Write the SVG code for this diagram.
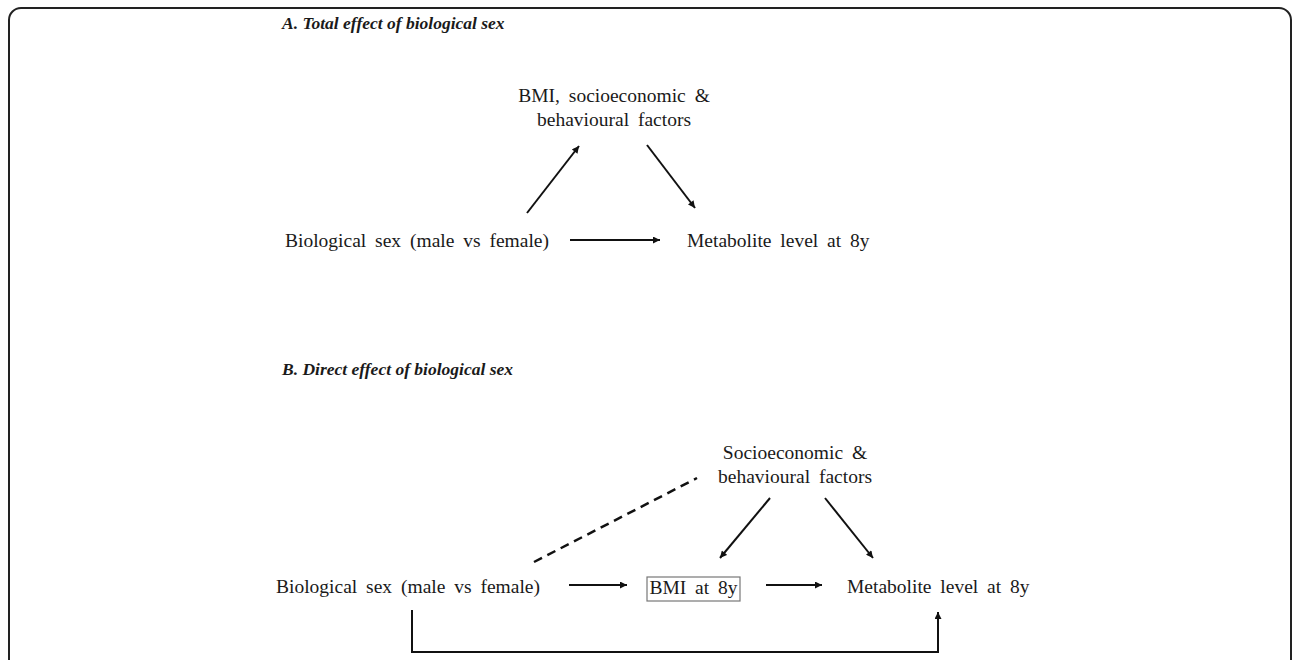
<svg xmlns="http://www.w3.org/2000/svg" width="1295" height="660" viewBox="0 0 1295 660">
<style>
  .t { font-family: "Liberation Serif", "Times New Roman", serif; font-size: 19.5px; fill: #1a1a1a; word-spacing: 4px; }
  .h { font-family: "Liberation Serif", "Times New Roman", serif; font-size: 17.5px; font-weight: bold; font-style: italic; fill: #1a1a1a; }
  .c { text-anchor: middle; }
  .ln { stroke: #111; stroke-width: 2; fill: none; }
  .dash { stroke: #111; stroke-width: 2.5; fill: none; stroke-dasharray: 9 6; }
</style>
<defs>
  <marker id="ah" viewBox="0 0 10 10" refX="10" refY="5" markerWidth="9" markerHeight="7" markerUnits="userSpaceOnUse" orient="auto">
    <path d="M0,0 L10,5 L0,10 z" fill="#111"/>
  </marker>
</defs>
<rect x="0" y="0" width="1295" height="660" fill="#fff"/>
<rect id="frame" x="9" y="8" width="1282" height="720" rx="12" ry="12" fill="none" stroke="#222" stroke-width="2"/>

<g id="titleA"><text class="h" x="282" y="29">A. Total effect of biological sex</text></g>
<g id="A_factors">
  <text class="t c" x="614" y="102">BMI, socioeconomic &amp;</text>
  <text class="t c" x="614" y="126">behavioural factors</text>
</g>
<g id="A_sex"><text class="t" x="285" y="247">Biological sex (male vs female)</text></g>
<g id="A_metab"><text class="t" x="687" y="247">Metabolite level at 8y</text></g>

<g id="titleB"><text class="h" x="282" y="375">B. Direct effect of biological sex</text></g>
<g id="B_factors">
  <text class="t c" x="795" y="459">Socioeconomic &amp;</text>
  <text class="t c" x="795" y="483">behavioural factors</text>
</g>
<g id="B_sex"><text class="t" x="276" y="593">Biological sex (male vs female)</text></g>
<g id="B_bmi">
  <rect x="647" y="577" width="93" height="24" fill="none" stroke="#777" stroke-width="1.2"/>
  <text class="t c" x="693.5" y="594">BMI at 8y</text>
</g>
<g id="B_metab"><text class="t" x="847" y="593">Metabolite level at 8y</text></g>

<g id="connectors">
  <line class="ln" x1="527" y1="213" x2="579" y2="146" marker-end="url(#ah)"/>
  <line class="ln" x1="647" y1="145" x2="695" y2="208" marker-end="url(#ah)"/>
  <line class="ln" x1="570" y1="240" x2="660" y2="240" marker-end="url(#ah)"/>

  <line class="dash" x1="534" y1="562" x2="697" y2="478"/>
  <line class="ln" x1="770" y1="498" x2="720" y2="558" marker-end="url(#ah)"/>
  <line class="ln" x1="825" y1="498" x2="873" y2="558" marker-end="url(#ah)"/>
  <line class="ln" x1="569" y1="585" x2="627" y2="585" marker-end="url(#ah)"/>
  <line class="ln" x1="766" y1="585" x2="822" y2="585" marker-end="url(#ah)"/>
  <path class="ln" d="M412,610 V652 H938 V612" marker-end="url(#ah)"/>
</g>
</svg>
